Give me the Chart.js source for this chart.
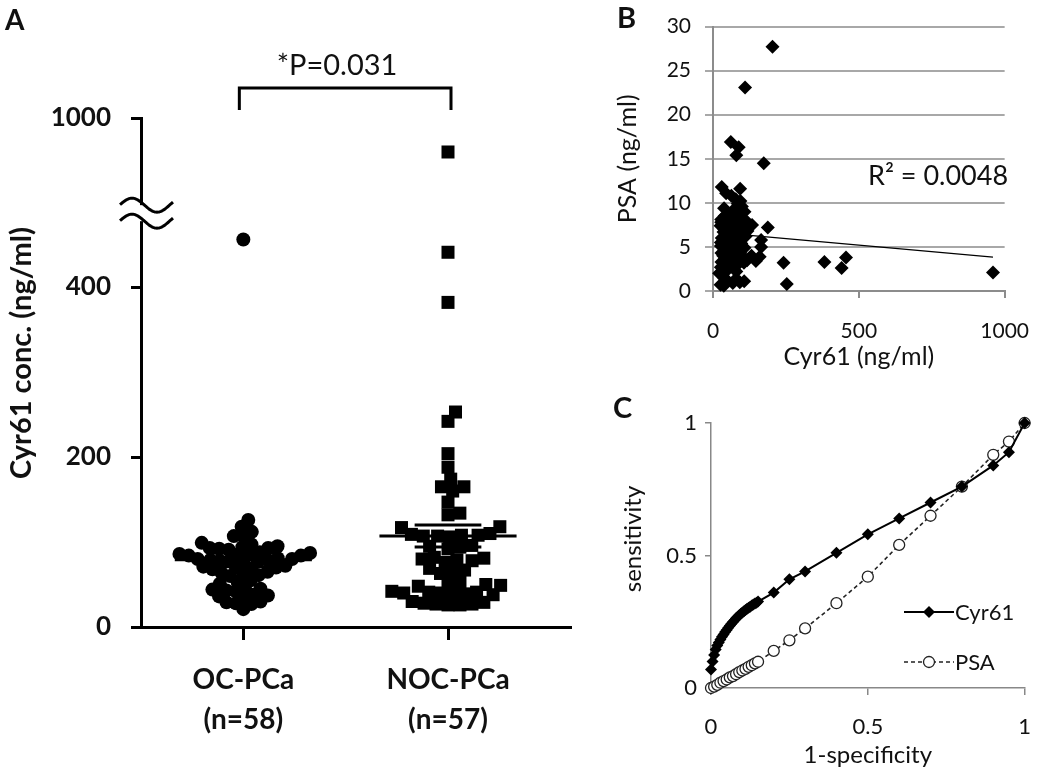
<!DOCTYPE html>
<html>
<head>
<meta charset="utf-8">
<script src="https://cdn.jsdelivr.net/npm/chart.js@4.4.1/dist/chart.umd.min.js"></script>
<style>
html,body{margin:0;padding:0;background:#fff;}
#wrap{position:relative;width:1050px;height:777px;overflow:hidden;font-family:Lato,'Open Sans',sans-serif;color:#111;background:#fff;}
canvas{position:absolute;}
.t{position:absolute;line-height:1;white-space:nowrap;}
.rot{transform:translate(-50%,-50%) rotate(-90deg);}
</style>
</head>
<body>
<div id="wrap">
<canvas id="cA" width="580" height="777" style="left:0;top:0;width:580px;height:777px"></canvas>
<canvas id="cB" width="510" height="380" style="left:540px;top:0;width:510px;height:380px"></canvas>
<canvas id="cC" width="510" height="397" style="left:540px;top:380px;width:510px;height:397px"></canvas>

<div class="t" style="left:5px;top:5px;font-size:28px;font-weight:700">A</div>
<div class="t" style="left:617px;top:2px;font-size:29px;font-weight:700">B</div>
<div class="t" style="left:613px;top:392px;font-size:29px;font-weight:700">C</div>
<div class="t" style="left:337px;top:63px;font-size:29px;transform:translate(-50%,-50%)">*P=0.031</div>
<div class="t" style="left:868px;top:161px;font-size:27px">R² = 0.0048</div>
<div class="t rot" style="left:19px;top:353px;font-size:29px;font-weight:700">Cyr61 conc. (ng/ml)</div>
<div class="t rot" style="left:632px;top:539px;font-size:24px">sensitivity</div>

<svg style="position:absolute;left:904px;top:604px" width="50" height="16"><line x1="0" y1="8" x2="50" y2="8" stroke="#000" stroke-width="2"/><polygon points="25,2 31,8 25,14 19,8" fill="#000"/></svg>
<div class="t" style="left:955px;top:612px;font-size:22px;transform:translateY(-50%)">Cyr61</div>
<svg style="position:absolute;left:904px;top:654px" width="50" height="16"><line x1="0" y1="8" x2="50" y2="8" stroke="#222" stroke-width="1.6" stroke-dasharray="4,3"/><circle cx="25" cy="8" r="5.5" fill="#fff" stroke="#222" stroke-width="1.3"/></svg>
<div class="t" style="left:955px;top:662px;font-size:22px;transform:translateY(-50%)">PSA</div>
</div>

<script>
// ---------------- Panel A data ----------------
const categories = ['OC-PCa', 'NOC-PCa'];
const groupSizes = ['(n=58)', '(n=57)'];
const ocValues = [456,126,118,112,107,107,99,97,95,94, 93,93,92,91,88,87,86,86,85,84, 84,81,80,80,79,79,78,78,77,77, 72,71,70,70,69,68,65,64,63,61, 60,55,53,51,46,45,44,43,42,38, 37,36,35,30,29,28,27,21];
const nocValues = [960,441,382,253,242,204,188,174,165,165, 160,147,134,132,118,117,110,109,108,108, 107,107,106,96,95,94,92,82,81,80, 79,78,76,69,67,65,63,53,52,50, 49,48,42,41,41,40,40,39,39,38, 30,29,28,27,27,26,26];
const meanValues = [79, 107];
const semValues = [8, 13];
const yTickValues = [0, 200, 400, 1000];
const breakBelow = 487, breakAbove = 888;   // axis break range

// ---------------- Panel B data ----------------
const psaOC = [3.8,7.4,7.8,6.2,8.1,3.6,9.6,5.4,7.0,4.3, 11.6,6.6,1.0,8.4,16.3,5.1,3.1,7.7,9.9,4.6, 6.0,8.9,15.4,2.2,5.6,7.2,3.9,10.4,6.4,4.8, 8.0,2.8,5.3,9.2,6.9,0.9,4.1,7.5,3.4,16.9, 5.8,8.6,2.5,6.3,4.4,11.1,7.1,3.0,5.0,9.4, 0.6,6.7,4.0,11.8,3.3,7.8,5.5,2.0];
const psaNOC = [2.1,2.6,3.3,0.8,3.2,27.7,7.2,14.5,5.8,5.0, 3.9,3.4,7.5,4.0,6.8,3.5,23.1,7.9,4.9,9.0, 1.1,6.1,3.2,8.3,5.2,10.2,4.5,7.3,2.9,6.5, 1.4,8.8,4.2,7.6,3.7,5.9,10.8,6.2,3.8,8.2, 1.2,5.4,6.9,4.6,2.4,8.5,3.6,7.0,5.7,1.5, 6.0,4.3,8.1,2.7,5.1,0.7,7.4];
const trendIntercept = 6.69, trendSlope = -0.00296;
const bXTicks = [0, 500, 1000];
const bYTicks = [0, 5, 10, 15, 20, 25, 30];

// ---------------- Panel C data ----------------
const rocCyrFpr = [0,0.005,0.01,0.015,0.02,0.025,0.03,0.035,0.04,0.045,0.05,0.055,0.06,0.065,0.07,0.075,0.08,0.085,0.09,0.095,0.1,0.105,0.11,0.115,0.12,0.125,0.13,0.135,0.14,0.145,0.15,0.2,0.25,0.3,0.4,0.5,0.6,0.7,0.8,0.9,0.95,1];
const rocCyrTpr = [0.07,0.10,0.125,0.145,0.16,0.172,0.183,0.193,0.202,0.211,0.219,0.227,0.235,0.242,0.249,0.256,0.263,0.269,0.275,0.28,0.285,0.29,0.294,0.299,0.303,0.307,0.311,0.315,0.319,0.322,0.326,0.36,0.41,0.44,0.51,0.58,0.64,0.70,0.76,0.84,0.89,1];
const rocPsaFpr = [0,0.01,0.02,0.03,0.04,0.05,0.06,0.07,0.08,0.09,0.1,0.11,0.12,0.13,0.14,0.15,0.2,0.25,0.3,0.4,0.5,0.6,0.7,0.8,0.9,0.95,1];
const rocPsaTpr = [0,0.005,0.012,0.02,0.026,0.032,0.04,0.045,0.052,0.06,0.066,0.072,0.08,0.086,0.093,0.099,0.14,0.18,0.225,0.32,0.42,0.54,0.65,0.76,0.88,0.93,1];
const cTicks = [0, 0.5, 1];

Chart.defaults.font.family = 'Lato, "Open Sans", sans-serif';
Chart.defaults.color = '#111';

// ---------------- Panel A ----------------
const shift = breakAbove - breakBelow;
const disp = v => (v > breakBelow ? v - shift : v);

const summaryDatasets = [];
meanValues.forEach((m, g) => {
  const c = g + 1;
  const segs = [[m, 0.335], [m + semValues[g], 0.163], [m - semValues[g], 0.163]];
  segs.forEach(([v, hw]) => summaryDatasets.push({
    type: 'line', data: [{x: c - hw, y: disp(v)}, {x: c + hw, y: disp(v)}],
    borderColor: '#000', borderWidth: 3, pointRadius: 0, clip: false
  }));
});

const breakPlugin = {
  id: 'axisBreak',
  afterDraw(chart) {
    const {ctx, scales: {y}} = chart;
    const ax = chart.chartArea.left;
    const yb = y.getPixelForValue(breakBelow);
    ctx.save();
    ctx.fillStyle = '#fff';
    ctx.fillRect(ax - 4, yb - 8, 8, 16);
    ctx.strokeStyle = '#000';
    ctx.lineWidth = 3;
    [-8, 8].forEach(dy => {
      ctx.beginPath();
      for (let x = ax - 21; x <= ax + 32; x += 1) {
        const yy = yb + dy - 7 * Math.sin(2 * Math.PI * (x - (ax - 21.5)) / 50);
        if (x === ax - 21) ctx.moveTo(x, yy); else ctx.lineTo(x, yy);
      }
      ctx.stroke();
    });
    ctx.restore();
  }
};
const bracketPlugin = {
  id: 'bracket',
  afterDraw(chart) {
    const {ctx, scales: {x}} = chart;
    const xl = x.getPixelForValue(1) - 4, xr = x.getPixelForValue(2) + 3;
    ctx.save();
    ctx.strokeStyle = '#000'; ctx.lineWidth = 3;
    ctx.beginPath();
    ctx.moveTo(xl, 110); ctx.lineTo(xl, 88); ctx.lineTo(xr, 88); ctx.lineTo(xr, 110);
    ctx.stroke();
    ctx.restore();
  }
};

const chartA = new Chart(document.getElementById('cA'), {
  type: 'scatter',
  data: {
    datasets: [
      {label: categories[0], data: ocValues.map(v => ({x: 1, y: disp(v)})), pointStyle: 'circle', pointRadius: 7,
       backgroundColor: '#000', pointBackgroundColor: '#000', borderWidth: 0, pointBorderWidth: 0, clip: false},
      {label: categories[1], data: nocValues.map(v => ({x: 2, y: disp(v)})), pointStyle: 'rect', pointRadius: 9.2,
       backgroundColor: '#000', pointBackgroundColor: '#000', borderWidth: 0, pointBorderWidth: 0, clip: false},
      ...summaryDatasets
    ]
  },
  options: {
    responsive: false, animation: false, devicePixelRatio: 1,
    layout: {padding: {top: 118, right: 8, left: 0, bottom: 0}},
    plugins: {legend: {display: false}, tooltip: {enabled: false}},
    scales: {
      x: {
        type: 'linear', min: 0.5, max: 2.6,
        afterBuildTicks: s => { s.ticks = [{value: 1}, {value: 2}]; },
        afterFit: s => { s.height = 150; },
        ticks: {callback: (v, i) => [categories[i], groupSizes[i]], font: {size: 28, weight: 'bold', lineHeight: 1.43},
                color: '#111', padding: 20, maxRotation: 0, autoSkip: false},
        grid: {drawOnChartArea: false, drawTicks: true, tickLength: 13, color: '#000', lineWidth: 3},
        border: {display: true, color: '#000', width: 3}
      },
      y: {
        type: 'linear', min: 0, max: disp(1000),
        afterBuildTicks: s => { s.ticks = yTickValues.map(v => ({value: disp(v)})); },
        afterFit: s => { s.width = 141; },
        ticks: {callback: (v, i) => String(yTickValues[i]), font: {size: 26, weight: 'bold'}, color: '#111', padding: 20, autoSkip: false},
        grid: {drawOnChartArea: false, drawTicks: true, tickLength: 10, color: '#000', lineWidth: 3},
        border: {display: true, color: '#000', width: 3}
      }
    }
  },
  plugins: [breakPlugin, bracketPlugin]
});

function swarm(chart, dsIndex, center, diam) {
  const xs = chart.scales.x, ys = chart.scales.y;
  const ds = chart.data.datasets[dsIndex];
  const cx = xs.getPixelForValue(center);
  const pts = ds.data.map((p, i) => ({i, py: ys.getPixelForValue(p.y), px: 0}));
  pts.sort((a, b) => b.py - a.py);
  const placed = [];
  for (const p of pts) {
    const cands = [0];
    for (const q of placed) {
      const dy = Math.abs(q.py - p.py);
      if (dy < diam) {
        const dx = Math.sqrt(diam * diam - dy * dy);
        cands.push(q.px - cx + dx, q.px - cx - dx);
      }
    }
    cands.sort((a, b) => Math.abs(a) - Math.abs(b));
    let off = 0;
    for (const c of cands) {
      const px = cx + c;
      if (placed.every(q => { const dx = q.px - px, dy = q.py - p.py; return dx * dx + dy * dy >= diam * diam - 0.5; })) { off = c; break; }
    }
    p.px = cx + off;
    placed.push(p);
    ds.data[p.i].x = xs.getValueForPixel(p.px);
  }
}
swarm(chartA, 0, 1, 9.5);
swarm(chartA, 1, 2, 12);
chartA.update('none');

// ---------------- Panel B ----------------
const cyrAll = ocValues.concat(nocValues);
const psaAll = psaOC.concat(psaNOC);
const xMin = Math.min(...cyrAll), xMax = Math.max(...cyrAll);
const grayAxis = '#8c8c8c', grayGrid = '#a8a8a8';

new Chart(document.getElementById('cB'), {
  type: 'scatter',
  data: {
    datasets: [
      {label: 'PSA', data: cyrAll.map((x, i) => ({x, y: psaAll[i]})), pointStyle: 'rectRot', pointRadius: 7,
       backgroundColor: '#000', pointBackgroundColor: '#000', borderWidth: 0, pointBorderWidth: 0, clip: false},
      {type: 'line', label: 'trend', data: [{x: xMin, y: trendIntercept + trendSlope * xMin}, {x: xMax, y: trendIntercept + trendSlope * xMax}],
       borderColor: '#000', borderWidth: 1.3, pointRadius: 0}
    ]
  },
  options: {
    responsive: false, animation: false, devicePixelRatio: 1,
    layout: {padding: {top: 26, right: 29, left: 0, bottom: 0}},
    plugins: {legend: {display: false}, tooltip: {enabled: false}},
    scales: {
      x: {
        type: 'linear', min: 0, max: 1000,
        afterBuildTicks: s => { s.ticks = bXTicks.map(v => ({value: v})); },
        afterFit: s => { s.height = 89; },
        ticks: {callback: (v, i) => String(bXTicks[i]), font: {size: 21}, color: '#111', padding: 21, maxRotation: 0},
        grid: {drawOnChartArea: false, tickLength: 7, color: grayAxis, lineWidth: 2},
        border: {color: grayAxis, width: 2},
        title: {display: true, text: 'Cyr61 (ng/ml)', font: {size: 25}, color: '#111', padding: {top: 0, bottom: 8}}
      },
      y: {
        type: 'linear', min: 0, max: 30,
        afterBuildTicks: s => { s.ticks = bYTicks.map(v => ({value: v})); },
        afterFit: s => { s.width = 173; },
        ticks: {callback: (v, i) => String(bYTicks[i]), font: {size: 21}, color: '#111', padding: 14},
        grid: {color: grayGrid, lineWidth: 2, tickLength: 8},
        border: {color: grayAxis, width: 2},
        title: {display: true, text: 'PSA (ng/ml)', font: {size: 25}, color: '#111', padding: {top: 73, bottom: 0}}
      }
    }
  }
});

// ---------------- Panel C ----------------
new Chart(document.getElementById('cC'), {
  type: 'scatter',
  data: {
    datasets: [
      {label: 'Cyr61', data: rocCyrFpr.map((x, i) => ({x, y: rocCyrTpr[i]})), showLine: true, borderColor: '#000', borderWidth: 2,
       pointStyle: 'rectRot', pointRadius: 6, backgroundColor: '#000', pointBackgroundColor: '#000', pointBorderWidth: 0, clip: false},
      {label: 'PSA', data: rocPsaFpr.map((x, i) => ({x, y: rocPsaTpr[i]})), showLine: true, borderColor: '#222', borderWidth: 1.6,
       borderDash: [4, 3], pointStyle: 'circle', pointRadius: 5.5, backgroundColor: '#fff', pointBackgroundColor: '#fff',
       pointBorderColor: '#222', pointBorderWidth: 1.3, clip: false}
    ]
  },
  options: {
    responsive: false, animation: false, devicePixelRatio: 1,
    layout: {padding: {top: 43, right: 22, left: 0, bottom: 0}},
    plugins: {legend: {display: false}, tooltip: {enabled: false}},
    scales: {
      x: {
        type: 'linear', min: 0, max: 1,
        afterBuildTicks: s => { s.ticks = cTicks.map(v => ({value: v})); },
        afterFit: s => { s.height = 89; },
        ticks: {callback: (v, i) => String(cTicks[i]), font: {size: 22}, color: '#111', padding: 19, maxRotation: 0},
        grid: {drawOnChartArea: false, tickLength: 7, color: '#888', lineWidth: 1.5},
        border: {color: '#888', width: 1.5},
        title: {display: true, text: '1-specificity', font: {size: 24}, color: '#111', padding: {top: 0, bottom: 7.6}}
      },
      y: {
        type: 'linear', min: 0, max: 1,
        afterBuildTicks: s => { s.ticks = cTicks.map(v => ({value: v})); },
        afterFit: s => { s.width = 171; },
        ticks: {callback: (v, i) => String(cTicks[i]), font: {size: 22}, color: '#111', padding: 8},
        grid: {drawOnChartArea: false, tickLength: 6, color: '#888', lineWidth: 1.5},
        border: {color: '#888', width: 1.5}
      }
    }
  }
});
</script>
</body>
</html>
